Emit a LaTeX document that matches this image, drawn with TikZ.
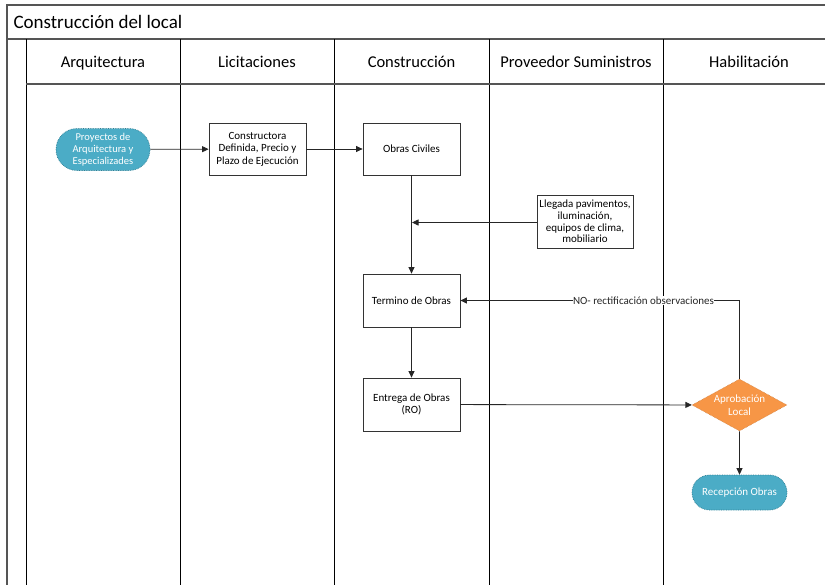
\documentclass[tikz,border=0pt]{standalone}
\usepackage{fontspec}
\setmainfont{Carlito}
\usetikzlibrary{shapes.geometric,shapes.misc,arrows.meta}
\definecolor{teal1}{HTML}{4BACC6}
\definecolor{teal2}{HTML}{2F7E93}
\definecolor{orange1}{HTML}{F79646}
\definecolor{frame}{HTML}{555555}
\begin{document}
\begin{tikzpicture}[x=1pt,y=-1pt,
  lane/.style={line width=1pt,black},
  pool/.style={line width=1.2pt,frame},
  proc/.style={draw=black!80,line width=0.8pt,fill=white,minimum width=97pt,minimum height=52pt,align=center,font=\fontsize{11}{12.5}\selectfont,inner sep=1pt},
  term/.style={rounded rectangle,draw=teal2,densely dotted,line width=0.7pt,fill=teal1,text=white,align=center,font=\fontsize{11}{12}\selectfont,minimum width=96pt,inner sep=1pt},
  dec/.style={diamond,aspect=1.83,draw=orange1!80!black,densely dotted,line width=0.5pt,fill=orange1,text=white,align=center,font=\fontsize{11}{12.5}\selectfont,minimum width=95pt,minimum height=52pt,inner sep=0pt},
  flow/.style={line width=0.8pt,black!85,-{Triangle[length=6.5pt,width=6pt]}},
  lanehead/.style={anchor=base,font=\fontsize{16.5}{18}\selectfont}]
\useasboundingbox (0,0) rectangle (825,584);
% pool frame and title band
\draw[pool] (830,5) -- (7,5) -- (7,590);
\draw[pool] (7,39) -- (830,39);
\node[anchor=west,font=\fontsize{19}{21}\selectfont] (title) at (10,21.5) {Construcción del local};
% lane separators and header row
\draw[lane] (26,39) -- (26,590);
\draw[lane] (180,39) -- (180,590);
\draw[lane] (334,39) -- (334,590);
\draw[lane] (489,39) -- (489,590);
\draw[lane] (663,39) -- (663,590);
\draw[pool] (26,84) -- (830,84);
\node[lanehead] (h1) at (103,67) {Arquitectura};
\node[lanehead] (h2) at (257,67) {Licitaciones};
\node[lanehead] (h3) at (411.5,67) {Construcción};
\node[lanehead] (h4) at (576,67) {Proveedor Suministros};
\node[lanehead] (h5) at (749,67) {Habilitación};
% process steps
\node[term,minimum height=42pt,font=\fontsize{10.5}{12}\selectfont] (proy) at (103,149.5) {Proyectos de\\Arquitectura y\\Especializades};
\node[proc] (constr) at (257.5,149) {Constructora\\Definida, Precio y\\Plazo de Ejecución};
\node[proc] (civ) at (411.5,149) {Obras Civiles};
\node[proc,minimum width=96pt,minimum height=53pt,font=\fontsize{11}{11.8}\selectfont] (lleg) at (585,221.5) {Llegada pavimentos,\\iluminación,\\equipos de clima,\\mobiliario};
\node[proc,minimum height=53pt] (term) at (411.5,300.5) {Termino de Obras};
\node[proc,minimum height=53pt] (ent) at (411.5,404.5) {Entrega de Obras\\(RO)};
\node[dec] (apr) at (739.5,405) {Aprobación\\Local};
\node[term,minimum height=35pt,minimum width=97pt] (rec) at (739.5,492.5) {Recepción Obras};
\coordinate (join) at (412,222.5);
% connectors
\draw[flow] (proy) -- (constr);
\draw[flow] (constr) -- (civ);
\draw[flow] (civ) -- (term);
\draw[flow] (lleg.west |- join) -- (join);
\draw[flow] (term) -- (ent);
\draw[flow] (ent) -- (apr);
\draw[flow] (apr.north) |- (term.east) node[pos=0.672,fill=white,inner sep=0.5pt,font=\fontsize{11}{12}\selectfont] (nolbl) {NO- rectificación observaciones};
\draw[flow] (apr.south) -- (rec);
\end{tikzpicture}
\end{document}
